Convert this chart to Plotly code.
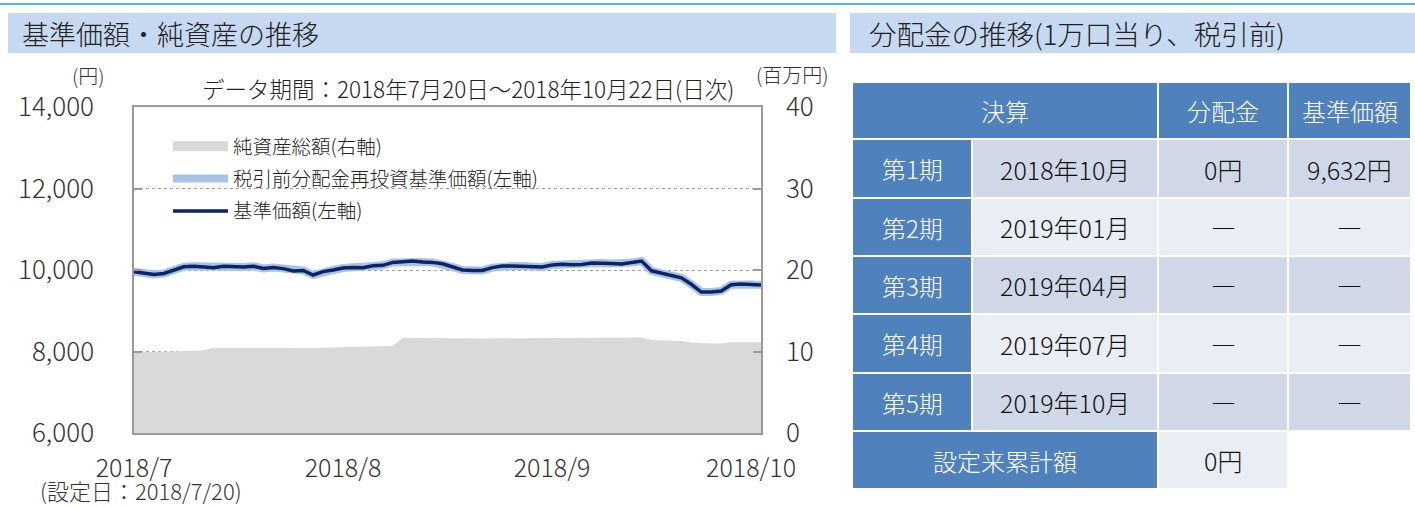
import plotly.graph_objects as go

W, H = 1415, 508
FONT = "Noto Sans CJK JP"


def px(x):
    return x / W


def py(y):
    return 1 - y / H


# ---------------- data ----------------
dates = (
    ["2018-07-%02d" % d for d in (20, 23, 24, 25, 26, 27, 30, 31)]
    + ["2018-08-%02d" % d for d in (1, 2, 3, 6, 7, 8, 9, 10, 13, 14, 15, 16, 17, 20, 21, 22, 23, 24, 27, 28, 29, 30, 31)]
    + ["2018-09-%02d" % d for d in (3, 4, 5, 6, 7, 10, 11, 12, 13, 14, 18, 19, 20, 21, 25, 26, 27, 28)]
    + ["2018-10-%02d" % d for d in (1, 2, 3, 4, 5, 9, 10, 11, 12, 15, 16, 17, 18, 19, 22)]
)

nav = [9960, 9919, 9890, 9914, 10000, 10079, 10091, 10083, 10056, 10093,
       10086, 10074, 10093, 10037, 10059, 10034, 9975, 9990, 9877, 9961,
       10000, 10049, 10064, 10054, 10103, 10115, 10187, 10206, 10218, 10199,
       10187, 10152, 10074, 10000, 9985, 9990, 10059, 10098, 10098, 10096,
       10086, 10074, 10123, 10140, 10130, 10135, 10172, 10172, 10160, 10147,
       10182, 10221, 9980, 9919, 9870, 9809, 9649, 9460, 9460, 9485,
       9639, 9654, 9645, 9632]

# no distributions so far -> reinvested NAV equals NAV
nav_reinvested = list(nav)

net_assets = [9.9, 9.9, 9.95, 9.98, 10.0, 10.05, 10.1, 10.15, 10.45, 10.45,
              10.47, 10.48, 10.5, 10.5, 10.5, 10.5, 10.45, 10.4, 10.42, 10.45,
              10.5, 10.52, 10.55, 10.58, 10.62, 10.65, 10.7, 11.7, 11.7, 11.7,
              11.68, 11.66, 11.64, 11.62, 11.6, 11.6, 11.6, 11.62, 11.63, 11.64,
              11.65, 11.65, 11.65, 11.66, 11.67, 11.68, 11.68, 11.69, 11.7, 11.7,
              11.7, 11.72, 11.4, 11.38, 11.35, 11.3, 11.1, 11.0, 10.97, 10.97,
              11.15, 11.15, 11.15, 11.15]

x_tick_idx = [0, 21, 42, 62]
x_tick_text = ["2018/7", "2018/8", "2018/9", "2018/10"]

left_tickvals = [6000, 8000, 10000, 12000, 14000]
left_ticktext = ["6,000", "8,000", "10,000", "12,000", "14,000"]
right_tickvals = [0, 10, 20, 30, 40]
right_ticktext = ["0", "10", "20", "30", "40"]

# table data
tbl_header = ["決算", "分配金", "基準価額"]
periods = ["第1期", "第2期", "第3期", "第4期", "第5期"]
settle_months = ["2018年10月", "2019年01月", "2019年04月", "2019年07月", "2019年10月"]
dists = ["0円", "―", "―", "―", "―"]
navs_tbl = ["9,632円", "―", "―", "―", "―"]
total_label = "設定来累計額"
total_value = "0円"

# ---------------- figure ----------------
fig = go.Figure()

area_color = "#d9d9d9"
fig.add_trace(go.Scatter(
    x=dates, y=net_assets, name="純資産総額(右軸)", mode="lines",
    fill="tozeroy", fillcolor=area_color, line=dict(width=0, color=area_color),
    yaxis="y", legendgroup="a", showlegend=False, hoverinfo="skip"))
# legend entry for the area (a wide grey block, like the reference)
fig.add_trace(go.Scatter(
    x=dates[:1], y=net_assets[:1], name="純資産総額(右軸)", mode="lines",
    line=dict(width=14, color=area_color), yaxis="y", legendgroup="a",
    showlegend=True, hoverinfo="skip"))
fig.add_trace(go.Scatter(
    x=dates, y=nav_reinvested, name="税引前分配金再投資基準価額(左軸)", mode="lines",
    line=dict(width=8, color="#a9c3e6"), yaxis="y2", legendgroup="b"))
fig.add_trace(go.Scatter(
    x=dates, y=nav, name="基準価額(左軸)", mode="lines",
    line=dict(width=3.5, color="#0b2566"), yaxis="y2", legendgroup="c"))

axis_line = "#9a9a9a"
ytick_font = dict(family=FONT, size=26, color="#333333", weight=300)
xtick_font = dict(family=FONT, size=25, color="#333333", weight=300)

fig.update_layout(
    width=W, height=H,
    margin=dict(l=0, r=0, t=0, b=0, pad=0),
    paper_bgcolor="white", plot_bgcolor="white",
    font=dict(family=FONT, color="#222222"),
    xaxis=dict(
        type="category", domain=[px(134), px(761)], range=[0, len(dates) - 1],
        tickvals=[dates[i] for i in x_tick_idx], ticktext=x_tick_text,
        showgrid=False, showline=True, linecolor=axis_line, linewidth=1.5, mirror=True,
        ticks="", tickfont=xtick_font, ticklabelstandoff=12, anchor="y", automargin=False,
    ),
    yaxis=dict(
        domain=[py(433), py(107)], range=[0, 40], side="right",
        tickvals=right_tickvals, ticktext=right_ticktext,
        showgrid=True, gridcolor="#a0a0a0", griddash="dot", gridwidth=1,
        showline=True, linecolor=axis_line, linewidth=1.5, zeroline=False,
        ticks="inside", ticklen=8, tickcolor=axis_line, tickwidth=1.5,
        tickfont=ytick_font, ticklabelstandoff=18, anchor="x", automargin=False,
    ),
    yaxis2=dict(
        overlaying="y", side="left", range=[6000, 14000],
        tickvals=left_tickvals, ticktext=left_ticktext,
        showgrid=False, zeroline=False,
        showline=True, linecolor=axis_line, linewidth=1.5,
        ticks="inside", ticklen=8, tickcolor=axis_line, tickwidth=1.5,
        tickfont=ytick_font, ticklabelstandoff=33, anchor="x", automargin=False,
    ),
    showlegend=True,
    legend=dict(
        x=px(168), y=py(127), xanchor="left", yanchor="top",
        bgcolor="rgba(0,0,0,0)", font=dict(family=FONT, size=19.5, color="#222222", weight=300),
        itemwidth=55, traceorder="grouped", tracegroupgap=4,
    ),
)

shapes = []
annotations = []

# top thin line
shapes.append(dict(type="rect", xref="paper", yref="paper", x0=0, x1=1,
                   y0=py(5), y1=py(3), fillcolor="#55b2e4", line=dict(width=0)))
# header bars
hdr_color = "#c6d9f0"
shapes.append(dict(type="rect", xref="paper", yref="paper", x0=px(8), x1=px(836),
                   y0=py(53), y1=py(13), fillcolor=hdr_color, line=dict(width=0), layer="below"))
shapes.append(dict(type="rect", xref="paper", yref="paper", x0=px(850), x1=1,
                   y0=py(53), y1=py(13), fillcolor=hdr_color, line=dict(width=0), layer="below"))
title_font = dict(family=FONT, size=27, color="#222222", weight=300)
annotations.append(dict(text="基準価額・純資産の推移", xref="paper", yref="paper",
                        x=px(20), y=py(33), xanchor="left", yanchor="middle", showarrow=False,
                        font=title_font))
annotations.append(dict(text="分配金の推移(1万口当り、税引前)", xref="paper", yref="paper",
                        x=px(867), y=py(33), xanchor="left", yanchor="middle", showarrow=False,
                        font=dict(family=FONT, size=27.5, color="#222222", weight=300)))

# chart texts
small = dict(family=FONT, size=20, color="#333333", weight=300)
annotations.append(dict(text="(円)", xref="paper", yref="paper", x=px(88), y=py(76),
                        xanchor="center", yanchor="middle", showarrow=False, font=small))
annotations.append(dict(text="(百万円)", xref="paper", yref="paper", x=px(792), y=py(75),
                        xanchor="center", yanchor="middle", showarrow=False, font=small))
annotations.append(dict(text="データ期間：2018年7月20日～2018年10月22日(日次)", xref="paper", yref="paper",
                        x=px(468), y=py(88), xanchor="center", yanchor="middle", showarrow=False,
                        font=dict(family=FONT, size=22.5, color="#222222", weight=300)))
annotations.append(dict(text="(設定日：2018/7/20)", xref="paper", yref="paper", x=px(38), y=py(508),
                        xanchor="left", yanchor="bottom", showarrow=False,
                        font=dict(family=FONT, size=22, color="#333333", weight=300)))

# ---------------- table ----------------
blue = "#4f81bd"
dark_cell = "#d0d8e8"
light_cell = "#e9edf4"
col_edges = [(853, 971), (973, 1157), (1159, 1287), (1289, 1410)]
row_edges = [(83, 138), (140, 197), (199, 255), (257, 313), (315, 372), (374, 430), (432, 488)]
cell_font = dict(family=FONT, size=25, color="#111111", weight=300)
white_font = dict(family=FONT, size=24, color="#ffffff", weight=300)


def cell(x0, x1, y0, y1, fill, text, font):
    shapes.append(dict(type="rect", xref="paper", yref="paper", x0=px(x0), x1=px(x1),
                       y0=py(y1), y1=py(y0), fillcolor=fill, line=dict(width=0), layer="below"))
    if text:
        annotations.append(dict(text=text, xref="paper", yref="paper", x=px((x0 + x1) / 2),
                                y=py((y0 + y1) / 2), xanchor="center", yanchor="middle",
                                showarrow=False, font=font))


# header row
hy0, hy1 = row_edges[0]
cell(col_edges[0][0], col_edges[1][1], hy0, hy1, blue, tbl_header[0], white_font)
cell(col_edges[2][0], col_edges[2][1], hy0, hy1, blue, tbl_header[1], white_font)
cell(col_edges[3][0], col_edges[3][1], hy0, hy1, blue, tbl_header[2], white_font)

for r in range(len(periods)):
    y0, y1 = row_edges[r + 1]
    fill = dark_cell if r % 2 == 0 else light_cell
    cell(col_edges[0][0], col_edges[0][1], y0, y1, blue, periods[r], white_font)
    cell(col_edges[1][0], col_edges[1][1], y0, y1, fill, settle_months[r], cell_font)
    cell(col_edges[2][0], col_edges[2][1], y0, y1, fill, dists[r], cell_font)
    cell(col_edges[3][0], col_edges[3][1], y0, y1, fill, navs_tbl[r], cell_font)

fy0, fy1 = row_edges[-1]
cell(col_edges[0][0], col_edges[1][1], fy0, fy1, blue, total_label, white_font)
cell(col_edges[2][0], col_edges[2][1], fy0, fy1, light_cell, total_value, cell_font)

fig.update_layout(shapes=shapes, annotations=annotations)

fig.write_html("out.html")
